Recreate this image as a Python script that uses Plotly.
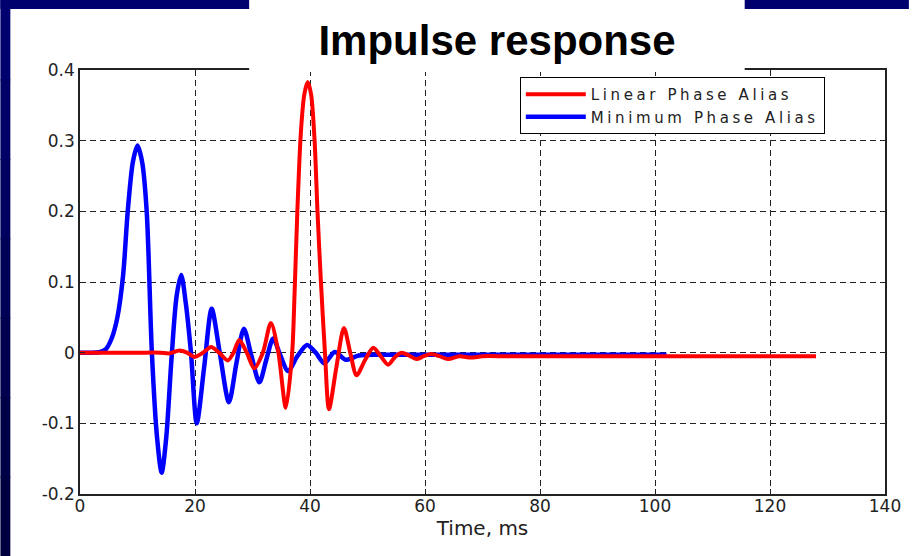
import plotly.graph_objects as go

# ---------------- data ----------------
blue_t = [0, 2, 3.5, 4.5, 5.5, 6.5, 7.5, 8.3, 9.2, 10.0, 10.8, 11.6, 12.5, 13.4, 14.2, 15.0,
          15.9, 16.8, 17.6, 18.4, 19.3, 20.3, 21.6, 22.9, 24.3, 25.9, 27.2, 28.5, 29.8, 31.2,
          32.4, 33.6, 34.8, 36.2, 37.8, 39.5, 41.0, 42.5, 44.3, 46.2, 48.5, 52, 60, 80, 102]
blue_v = [0, 0, 0.001, 0.005, 0.02, 0.05, 0.11, 0.2, 0.27, 0.293, 0.27, 0.2, 0.0, -0.12,
          -0.17, -0.12, -0.01, 0.08, 0.11, 0.07, 0.0, -0.1, -0.02, 0.062, 0.0, -0.07, -0.015,
          0.034, -0.004, -0.042, -0.01, 0.02, -0.003, -0.026, -0.005, 0.011, 0.0, -0.015,
          0.001, -0.01, -0.004, -0.003, -0.003, -0.003, -0.003]

red_t = [0, 10, 14, 15.5, 17.3, 18.6, 19.9, 21.4, 22.8, 24.2, 25.7, 26.7, 27.7, 29.0, 30.3,
         31.8, 33.2, 34.5, 35.8, 36.9, 37.3, 37.8, 38.4, 39.0, 39.6, 40.2, 40.8, 41.3, 41.9,
         42.6, 43.3, 44.6, 45.9, 47.0, 48.1, 49.6, 51.0, 52.3, 53.6, 54.8, 55.9, 57.2, 58.5,
         59.8, 61.1, 62.5, 64.0, 66, 68, 70, 74, 80, 90, 100, 110, 128]
red_v = [0, 0, 0.0, -0.001, 0.003, 0.0, -0.006, 0.0, 0.008, 0.0, -0.011, 0.0, 0.018, 0.0,
         -0.022, 0.0, 0.042, 0.0, -0.078, 0.0, 0.08, 0.2, 0.31, 0.365, 0.383, 0.365, 0.3,
         0.2, 0.1, 0.0, -0.08, -0.02, 0.035, 0.0, -0.032, -0.01, 0.007, -0.005, -0.017,
         -0.006, 0.0, -0.004, -0.009, -0.005, -0.002, -0.005, -0.009, -0.005, -0.007,
         -0.005, -0.005, -0.005, -0.005, -0.005, -0.005, -0.005]

series_names = ["Linear Phase Alias", "Minimum Phase Alias"]
x_ticks = [0, 20, 40, 60, 80, 100, 120, 140]
y_ticks = [-0.2, -0.1, 0, 0.1, 0.2, 0.3, 0.4]
y_tick_text = ["-0.2", "-0.1", "0", "0.1", "0.2", "0.3", "0.4"]
title_text = "Impulse response"
x_title = "Time, ms"

# ---------------- layout helpers ----------------
W, H = 913, 556
L, R, T, B = 80, 24, 70, 62
PW, PH = W - L - R, H - T - B


def px_x(p):
    return (p - L) / PW


def px_y(p):
    return (H - B - p) / PH


def spaced(s):
    return '<span style="letter-spacing:3.6px">' + s + '</span>'


fig = go.Figure()
fig.add_trace(go.Scatter(x=blue_t, y=blue_v, mode="lines", name=spaced(series_names[1]),
                         legendrank=2,
                         line=dict(color="#0000ff", width=4.5, shape="spline", smoothing=0.8)))
fig.add_trace(go.Scatter(x=red_t, y=red_v, mode="lines", name=spaced(series_names[0]),
                         legendrank=1,
                         line=dict(color="#ff0000", width=4, shape="spline", smoothing=0.8)))

grid_dash = "6px,4px"
axis_font = dict(family="DejaVu Sans", size=17, color="#222222")

shapes = [
    dict(type="rect", xref="paper", yref="paper", x0=px_x(0), x1=px_x(W), y0=px_y(9), y1=px_y(0),
         fillcolor="#00006e", line=dict(width=0), layer="below"),
]
left_cols = ["#00006e", "#000066", "#00005e", "#000056", "#00004e", "#000046", "#000040"]
seg = H / len(left_cols)
for i, c in enumerate(left_cols):
    shapes.append(dict(type="rect", xref="paper", yref="paper", x0=px_x(0), x1=px_x(10),
                       y0=px_y(seg * (i + 1) + 1), y1=px_y(seg * i), fillcolor=c,
                       line=dict(width=0), layer="below"))
shapes.append(dict(type="rect", xref="paper", yref="paper", x0=px_x(250), x1=px_x(748),
                   y0=px_y(72), y1=px_y(0), fillcolor="white", line=dict(width=0), layer="above"))

fig.update_layout(
    width=W, height=H, autosize=False,
    margin=dict(l=L, r=R, t=T, b=B, pad=0),
    paper_bgcolor="white", plot_bgcolor="white",
    title=dict(text=title_text, x=497 / W, xanchor="center", xref="container",
               y=1 - 40 / H, yanchor="middle", yref="container",
               font=dict(family="Liberation Sans, Arial", size=42, color="black", weight="bold")),
    showlegend=True,
    legend=dict(x=px_x(522), y=px_y(77), xanchor="left", yanchor="top",
                bgcolor="white", bordercolor="black", borderwidth=1,
                font=dict(family="DejaVu Sans", size=15, color="#222222"),
                itemwidth=60, tracegroupgap=0),
    shapes=shapes,
    xaxis=dict(range=[0, 140], tickvals=x_ticks, ticktext=[str(v) for v in x_ticks],
               showgrid=True, gridcolor="#222222", gridwidth=1, griddash=grid_dash,
               zeroline=False, showline=True, linecolor="#222222", linewidth=1.5, mirror=True,
               ticks="inside", ticklen=5, tickcolor="#222222", tickfont=axis_font,
               ticklabelstandoff=-4,
               title=dict(text=x_title, font=dict(family="DejaVu Sans", size=20, color="#222222"),
                          standoff=0)),
    yaxis=dict(range=[-0.2, 0.4], tickvals=y_ticks, ticktext=y_tick_text,
               showgrid=True, gridcolor="#222222", gridwidth=1, griddash=grid_dash,
               zeroline=False, showline=True, linecolor="#222222", linewidth=1.5, mirror=True,
               ticks="inside", ticklen=5, tickcolor="#222222", tickfont=axis_font,
               ticklabelstandoff=0),
)

fig.write_html("out.html", config={"displayModeBar": False},
               post_script="document.body.style.margin='0';")
